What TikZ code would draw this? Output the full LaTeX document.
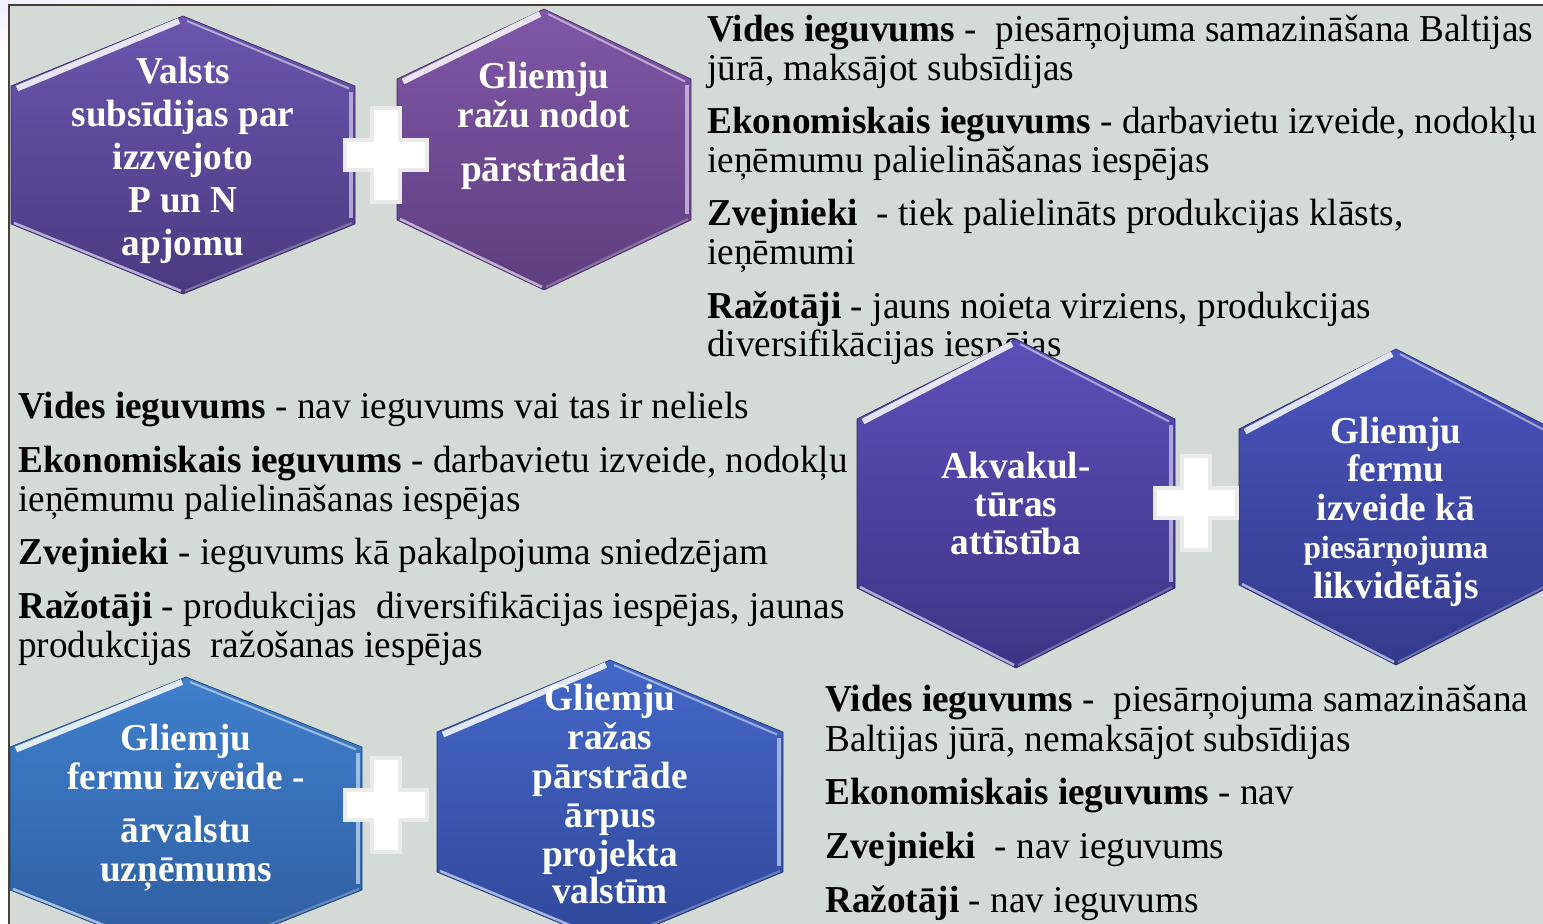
\documentclass[tikz,border=0pt]{standalone}
\usepackage{fontspec}
\setmainfont{Liberation Serif}[FakeStretch=0.98]
\definecolor{panel}{HTML}{D4DBD7}
\definecolor{frame}{HTML}{4A4038}
\definecolor{hAt}{HTML}{6B55AE}\definecolor{hAb}{HTML}{4B3A82}
\definecolor{hBt}{HTML}{7E57A8}\definecolor{hBb}{HTML}{5E3F80}
\definecolor{hCt}{HTML}{5C50B8}\definecolor{hCb}{HTML}{3E3486}
\definecolor{hDt}{HTML}{4B55BC}\definecolor{hDb}{HTML}{343A8C}
\definecolor{hEt}{HTML}{3F80CC}\definecolor{hEb}{HTML}{2D5C9E}
\definecolor{hFt}{HTML}{4368C6}\definecolor{hFb}{HTML}{32479A}
\newcommand\hexshape[8]{%
  \path[shade, top color=#7, bottom color=#8, draw=#8!70!black, line width=0.6]
    (#2,#3) -- (#2+#5,#3+#6) -- (#2+#5,#4-#6) -- (#2,#4) -- (#2-#5,#4-#6) -- (#2-#5,#3+#6) -- cycle;
  \draw[line width=6, white, opacity=0.85] (#2-#5+6,#3+#6+2.5) -- (#2-4,#3+5);
  \draw[line width=2, white, opacity=0.5] (#2+4,#3+5) -- (#2+#5-6,#3+#6+2.5);
  \draw[line width=4.5, white!55!#7, opacity=0.9] (#2+#5-4,#3+#6+6) -- (#2+#5-4,#4-#6-6);
  \draw[line width=2.5, white!60!#7, opacity=0.9] (#2-#5+3,#4-#6-1) -- (#2-2,#4-3);
  \draw[line width=2, white!40!#8, opacity=0.7] (#2+2,#4-3) -- (#2+#5-3,#4-#6-1);
  \coordinate (#1) at (#2,{(#3+#4)/2});
}
\tikzset{
  txt/.style={anchor=base west, inner sep=0, text=black, font=\fontsize{38}{39}\selectfont},
  htxt/.style={anchor=base, inner sep=0, text=white, font=\bfseries\fontsize{38}{40}\selectfont},
  plus/.style={fill=white, draw=black!8, line width=3.5}
}
\newcommand\plusat[2]{%
  \path[plus] (#1-14,#2-47) -- (#1+14,#2-47) -- (#1+14,#2-15) -- (#1+41,#2-15) -- (#1+41,#2+15) -- (#1+14,#2+15) -- (#1+14,#2+47) -- (#1-14,#2+47) -- (#1-14,#2+15) -- (#1-41,#2+15) -- (#1-41,#2-15) -- (#1-14,#2-15) -- cycle;
}
\begin{document}
\begin{tikzpicture}[x=1pt,y=-1pt]
\useasboundingbox (0,0) rectangle (1543,924);
\fill[white] (0,0) rectangle (1543,924);
\shade[inner color=blue!6, outer color=white] (0,0) ellipse (300 and 60);
\path[fill=panel, draw=frame, line width=2] (9,5) rectangle (1570,960);

% ---- text block top right
\node[txt] (a1) at (707,41) {\textbf{Vides ieguvums} -\ \ piesārņojuma samazināšana Baltijas};
\node[txt] (a2) at (707,80) {jūrā, maksājot subsīdijas};
\node[txt] (a3) at (707,133) {\textbf{Ekonomiskais ieguvums} - darbavietu izveide, nodokļu};
\node[txt] (a4) at (707,172) {ieņēmumu palielināšanas iespējas};
\node[txt] (a5) at (707,225) {\textbf{Zvejnieki}\ \ - tiek palielināts produkcijas klāsts,};
\node[txt] (a6) at (707,264) {ieņēmumi};
\node[txt] (a7) at (707,318) {\textbf{Ražotāji} - jauns noieta virziens, produkcijas};
\node[txt] (a8) at (707,356) {diversifikācijas iespējas};

% ---- text block middle left
\node[txt] (b1) at (18,418) {\textbf{Vides ieguvums} - nav ieguvums vai tas ir neliels};
\node[txt] (b2) at (18,472) {\textbf{Ekonomiskais ieguvums} - darbavietu izveide, nodokļu};
\node[txt] (b3) at (18,511) {ieņēmumu palielināšanas iespējas};
\node[txt] (b4) at (18,564) {\textbf{Zvejnieki} - ieguvums kā pakalpojuma sniedzējam};
\node[txt] (b5) at (18,618) {\textbf{Ražotāji} - produkcijas\ \ diversifikācijas iespējas, jaunas};
\node[txt] (b6) at (18,657) {produkcijas\ \ ražošanas iespējas};

% ---- text block bottom right
\node[txt] (c1) at (825,711) {\textbf{Vides ieguvums} -\ \ piesārņojuma samazināšana};
\node[txt] (c2) at (825,751) {Baltijas jūrā, nemaksājot subsīdijas};
\node[txt] (c3) at (825,804) {\textbf{Ekonomiskais ieguvums} - nav};
\node[txt] (c4) at (825,858) {\textbf{Zvejnieki}\ \ - nav ieguvums};
\node[txt] (c5) at (825,912) {\textbf{Ražotāji} - nav ieguvums};

% ---- hexagons
\hexshape{H1}{183}{16}{294}{172}{70}{hAt}{hAb}
\hexshape{H2}{544}{9}{290}{147}{70}{hBt}{hBb}
\hexshape{H3}{1016}{339}{668}{159}{80}{hCt}{hCb}
\hexshape{H4}{1396}{349}{665}{157}{80}{hDt}{hDb}
\hexshape{H5}{186}{677}{960}{176}{70}{hEt}{hEb}
\hexshape{H6}{610}{660}{944}{173}{72}{hFt}{hFb}

\plusat{386}{155}
\plusat{1196}{503}
\plusat{386}{805}

% ---- hexagon texts
\node[htxt] (t11) at (183,83) {Valsts};
\node[htxt] (t12) at (183,126) {subsīdijas par};
\node[htxt] (t13) at (183,169) {izzvejoto};
\node[htxt] (t14) at (183,212) {P un N};
\node[htxt] (t15) at (183,255) {apjomu};

\node[htxt] (t21) at (544,88) {Gliemju};
\node[htxt] (t22) at (544,127) {ražu nodot};
\node[htxt] (t23) at (544,181) {pārstrādei};

\node[htxt] (t31) at (1016,478) {Akvakul-};
\node[htxt] (t32) at (1016,516) {tūras};
\node[htxt] (t33) at (1016,554) {attīstība};

\node[htxt] (t41) at (1396,443) {Gliemju};
\node[htxt] (t42) at (1396,481) {fermu};
\node[htxt] (t43) at (1396,520) {izveide kā};
\node[htxt, font=\bfseries\fontsize{32}{34}\selectfont] (t44) at (1396,558) {piesārņojuma};
\node[htxt] (t45) at (1396,598) {likvidētājs};

\node[htxt] (t51) at (186,750) {Gliemju};
\node[htxt] (t52) at (186,789) {fermu izveide -};
\node[htxt] (t53) at (186,842) {ārvalstu};
\node[htxt] (t54) at (186,881) {uzņēmums};

\node[htxt] (t61) at (610,710) {Gliemju};
\node[htxt] (t62) at (610,749) {ražas};
\node[htxt] (t63) at (610,788) {pārstrāde};
\node[htxt] (t64) at (610,827) {ārpus};
\node[htxt] (t65) at (610,866) {projekta};
\node[htxt] (t66) at (610,903) {valstīm};
\end{tikzpicture}
\end{document}
